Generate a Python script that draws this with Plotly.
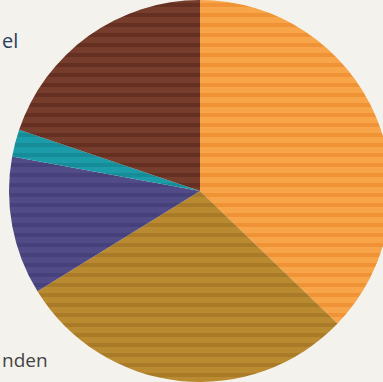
import plotly.graph_objects as go

labels = ["A", "B", "C", "D", "E"]
values = [37.2, 29.0, 11.7, 2.3, 19.8]
colors = ["#f8a449", "#b98a30", "#514c87", "#1c9ba9", "#763c2c"]
stripe_colors = ["#f09236", "#a97a28", "#46417a", "#178c99", "#652f22"]

fig = go.Figure(go.Pie(
    labels=labels,
    values=values,
    sort=False,
    direction="clockwise",
    rotation=0,
    textinfo="none",
    hole=0,
    marker=dict(
        colors=colors,
        line=dict(width=0),
        pattern=dict(shape="-", bgcolor=colors, fgcolor=stripe_colors,
                     size=10, solidity=0.4, fillmode="replace"),
    ),
    domain=dict(x=[0, 1], y=[0, 1]),
    showlegend=False,
))

fig.add_annotation(text="el", x=0, y=1 - 40 / 382, xref="paper", yref="paper",
                   xanchor="left", yanchor="middle", showarrow=False,
                   font=dict(family="Open Sans", size=20, color="#2a3f5f"))
fig.add_annotation(text="nden", x=0, y=1 - 360 / 382, xref="paper", yref="paper",
                   xanchor="left", yanchor="middle", showarrow=False,
                   font=dict(family="Open Sans", size=19, color="#444444"))

fig.update_layout(
    width=400, height=382,
    margin=dict(l=0, r=0, t=0, b=0),
    paper_bgcolor="#f4f2ec",
)

fig.write_html("out.html", post_script="document.body.style.overflow='hidden';document.documentElement.style.overflow='hidden';")
